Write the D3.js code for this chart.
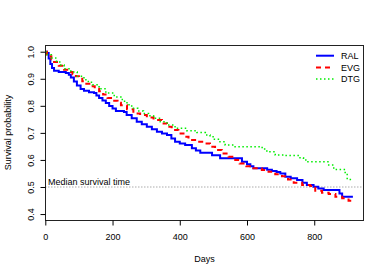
<!DOCTYPE html>
<html>
<head>
<meta charset="utf-8">
<script src="https://cdn.jsdelivr.net/npm/d3@7"></script>
<style>
  body { margin: 0; background: #fff; }
  text { font-family: "Liberation Sans", Arial, sans-serif; fill: #000; }
</style>
</head>
<body>
<script>
// survival curves (days, survival after drop)
let ral_days = [0, 5, 10, 15, 20, 26, 40, 61, 70, 76, 85, 94, 105, 115, 130, 145, 152, 160, 170, 180, 190, 200, 210, 234, 242, 257, 272, 287, 302, 317, 332, 347, 362, 375, 386, 400, 416, 436, 448, 461, 496, 520, 585, 600, 610, 619, 660, 674, 688, 699, 714, 730, 749, 765, 778, 798, 812, 828, 875, 883, 915]
let ral_surv = [1, .995, .975, .955, .940, .930, .925, .921, .915, .905, .890, .875, .862, .856, .850, .847, .838, .829, .820, .810, .799, .790, .781, .777, .766, .754, .741, .732, .723, .713, .704, .698, .692, .679, .667, .661, .655, .643, .635, .627, .617, .606, .593, .584, .577, .569, .564, .559, .555, .550, .538, .532, .526, .516, .507, .501, .494, .489, .476, .464, .464]

let evg_days = [0, 5, 11, 18, 26, 40, 56, 71, 81, 91, 100, 110, 122, 135, 147, 160, 172, 185, 205, 215, 225, 243, 262, 282, 302, 322, 347, 362, 376, 396, 411, 426, 451, 476, 490, 505, 525, 545, 565, 578, 598, 619, 644, 664, 684, 704, 722, 739, 764, 788, 803, 823, 843, 863, 883, 902, 918]
let evg_surv = [1, .990, .983, .972, .962, .948, .933, .925, .917, .909, .900, .891, .882, .872, .863, .854, .842, .829, .819, .811, .802, .787, .772, .766, .757, .748, .735, .723, .711, .698, .686, .674, .667, .661, .649, .637, .624, .612, .600, .587, .577, .569, .563, .556, .547, .540, .528, .516, .507, .504, .486, .479, .474, .464, .458, .449, .449]

let dtg_days = [0, 6, 18, 31, 43, 56, 76, 95, 115, 128, 140, 160, 180, 205, 229, 243, 257, 275, 292, 307, 322, 342, 362, 386, 421, 451, 476, 490, 503, 515, 535, 560, 645, 659, 684, 709, 755, 768, 778, 843, 858, 892, 898, 912]
let dtg_surv = [1, .989, .977, .965, .951, .937, .925, .909, .896, .887, .878, .863, .847, .833, .817, .804, .791, .781, .772, .763, .754, .741, .729, .717, .708, .701, .692, .686, .676, .667, .655, .649, .640, .630, .618, .616, .608, .600, .593, .581, .565, .550, .528, .528]

let groups = ['RAL', 'EVG', 'DTG']
let x_ticks = [0, 200, 400, 600, 800]
let y_ticks = [0.4, 0.5, 0.6, 0.7, 0.8, 0.9, 1.0]
let median_level = 0.5

let series = [
    {name: groups[0], days: ral_days, surv: ral_surv, color: '#0000ff', dash: null, width: 2},
    {name: groups[1], days: evg_days, surv: evg_surv, color: '#ff0000', dash: '5,4', width: 2},
    {name: groups[2], days: dtg_days, surv: dtg_surv, color: '#00ee00', dash: '1.5,2.5', width: 1.5}
]

let W = 388, H = 277
let L = 45, R = 364, T = 45, B = 220

let svg = d3.select('body').append('svg')
            .attr('width', W)
            .attr('height', H)

let x = d3.scaleLinear().domain([0, 948]).range([L + 0.3, R])
let y = d3.scaleLinear().domain([0.378, 1.0248]).range([B, T])

// median line
svg.append('line')
    .attr('x1', L).attr('x2', R)
    .attr('y1', y(median_level)).attr('y2', y(median_level))
    .style('stroke', '#c8c8c8')
    .style('stroke-width', 1.3)
    .style('stroke-dasharray', '1.5,1.5')

svg.append('text')
    .attr('x', L + 3)
    .attr('y', y(median_level) - 2)
    .style('font-size', '9px')
    .text('Median survival time')

// curves
let line = d3.line()
    .x((d) => x(d[0]))
    .y((d) => y(d[1]))
    .curve(d3.curveStepAfter)

series.forEach((s) => {
    svg.append('path')
        .datum(s.days.map((d, i) => [d, s.surv[i]]))
        .attr('d', line)
        .style('fill', 'none')
        .style('stroke', s.color)
        .style('stroke-width', s.width)
        .style('stroke-dasharray', s.dash)
})

// box
svg.append('rect')
    .attr('x', L + 0.5).attr('y', T + 0.5)
    .attr('width', R - L - 1).attr('height', B - T)
    .style('fill', 'none')
    .style('stroke', '#222')
    .style('stroke-width', 1)

// x axis
svg.append('g')
    .attr('transform', `translate(0,${B + 0.5})`)
    .call(d3.axisBottom(x).tickValues(x_ticks).tickSize(5).tickPadding(8).tickFormat(d3.format('d')))
    .call((g) => g.select('.domain').remove())
    .call((g) => g.selectAll('text').style('font-size', '9px').style('font-family', '"Liberation Sans", Arial, sans-serif'))

// y axis
let yAxis = svg.append('g')
    .attr('transform', `translate(${L + 0.5},0)`)
    .call(d3.axisLeft(y).tickValues(y_ticks).tickSize(5).tickFormat(d3.format('.1f')))
    .call((g) => g.select('.domain').remove())
yAxis.selectAll('.tick text')
    .attr('x', null).attr('dy', null)
    .attr('transform', 'translate(-12,0) rotate(-90)')
    .attr('text-anchor', 'middle')
    .style('font-size', '9px')
    .style('font-family', '"Liberation Sans", Arial, sans-serif')

svg.append('text')
    .attr('x', (L + R) / 2)
    .attr('y', 262)
    .attr('text-anchor', 'middle')
    .style('font-size', '9px')
    .text('Days')

svg.append('text')
    .attr('transform', `translate(11,${(T + B) / 2}) rotate(-90)`)
    .attr('text-anchor', 'middle')
    .style('font-size', '9px')
    .text('Survival probability')

// legend
let leg = svg.selectAll('.legend')
    .data(series)
    .join('g')
    .classed('legend', true)
    .attr('transform', (d, i) => `translate(0,${55.7 + i * 11.7})`)

leg.append('line')
    .attr('x1', 316).attr('x2', 334)
    .style('stroke', (d) => d.color)
    .style('stroke-width', (d) => d.width)
    .style('stroke-dasharray', (d) => d.dash)

leg.append('text')
    .attr('x', 341)
    .attr('y', 3.3)
    .style('font-size', '9px')
    .text((d) => d.name)
</script>
</body>
</html>
